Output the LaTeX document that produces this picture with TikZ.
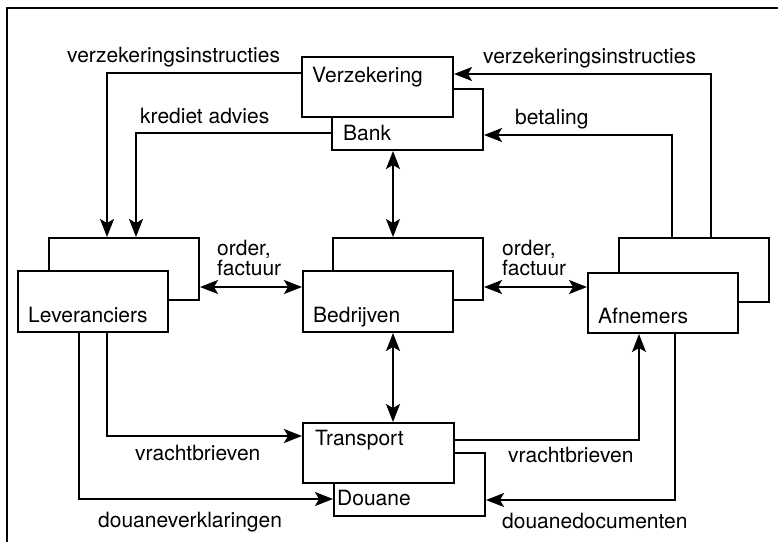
\documentclass[tikz,border=0pt]{standalone}
\usepackage{fontspec}
\setmainfont{TeX Gyre Heros}
\usetikzlibrary{arrows.meta}
\begin{document}
\begin{tikzpicture}[x=1pt,y=-1pt,
  box/.style={draw=black,fill=white,line width=2pt,rectangle,inner sep=0pt,minimum width=150pt,minimum height=61pt},
  txt/.style={anchor=base west,inner sep=0pt,font=\fontsize{21}{24}\selectfont},
  arr/.style={line width=1.8pt,-{Stealth[length=18pt,width=14pt,inset=4pt]}},
  darr/.style={line width=1.8pt,{Stealth[length=18pt,width=14pt,inset=4pt]}-{Stealth[length=18pt,width=14pt,inset=4pt]}},
  frame/.style={line width=2pt}]
\useasboundingbox (0,0) rectangle (778,542);
\coordinate (f0) at (7,8);
\coordinate (f1) at (778,8);
\coordinate (f2) at (7,542);
\draw[frame] (f2) -- (f0) -- (f1);
% boxes
\node[box,minimum width=151pt,minimum height=61pt] (bank) at (407.5,119.5) {};
\node[box,minimum width=151pt,minimum height=60pt] (verz) at (377.5,87) {};
\node[box,minimum height=62pt] (levB) at (124,269) {};
\node[box] (lev) at (93,301.5) {};
\node[box,minimum height=62pt] (bedB) at (408,269) {};
\node[box] (bed) at (378,301.5) {};
\node[box,minimum height=64pt] (afnB) at (694,270) {};
\node[box,minimum height=60pt] (afn) at (663,303) {};
\node[box,minimum width=151pt,minimum height=63pt] (douane) at (409.5,484.5) {};
\node[box,minimum width=151pt,minimum height=60pt] (trans) at (378.5,453) {};
% box texts
\node[txt] (tverz) at (312,82) {Verzekering};
\node[txt] (tbank) at (343,140) {Bank};
\node[txt] (tlev) at (28,322) {Leveranciers};
\node[txt] (tbed) at (313,322) {Bedrijven};
\node[txt] (tafn) at (598,323) {Afnemers};
\node[txt] (ttrans) at (315,445) {Transport};
\node[txt] (tdou) at (337,505) {Douane};
% labels
\node[txt] (l1) at (67,62) {verzekeringsinstructies};
\node[txt] (l2) at (140,123) {krediet advies};
\node[txt] (l3) at (483,63) {verzekeringsinstructies};
\node[txt] (l4) at (515,124) {betaling};
\node[txt] (l5) at (217,255) {order,};
\node[txt] (l6) at (217,275) {factuur};
\node[txt] (l7) at (502,255) {order,};
\node[txt] (l8) at (502,275) {factuur};
\node[txt] (l9) at (135,460) {vrachtbrieven};
\node[txt] (l10) at (98,527) {douaneverklaringen};
\node[txt] (l11) at (508,462) {vrachtbrieven};
\node[txt] (l12) at (502,528) {douanedocumenten};
% helper coordinates
\coordinate (c1) at (107,73);
\coordinate (c2) at (136,133);
\coordinate (c3) at (393,0);
\coordinate (c4) at (711,74);
\coordinate (c5) at (672,135);
\coordinate (c6) at (0,287);
\coordinate (c7) at (107,436);
\coordinate (c8) at (79,499);
\coordinate (c9) at (639,440);
\coordinate (c10) at (675,500);
% connectors
\draw[arr] (verz.west|-c1) -| (levB.north-|c1);
\draw[arr] (bank.west|-c2) -| (levB.north-|c2);
\draw[darr] (bank.south-|c3) -- (bedB.north-|c3);
\draw[arr] (afnB.north-|c4) |- (verz.east|-c4);
\draw[arr] (afnB.north-|c5) |- (bank.east|-c5);
\draw[darr] (levB.east|-c6) -- (bed.west|-c6);
\draw[darr] (bedB.east|-c6) -- (afn.west|-c6);
\draw[darr] (bed.south-|c3) -- (trans.north-|c3);
\draw[arr] (lev.south-|c7) |- (trans.west|-c7);
\draw[arr] (lev.south-|c8) |- (douane.west|-c8);
\draw[arr] (trans.east|-c9) -| (afn.south-|c9);
\draw[arr] (afn.south-|c10) |- (douane.east|-c10);
\end{tikzpicture}
\end{document}
